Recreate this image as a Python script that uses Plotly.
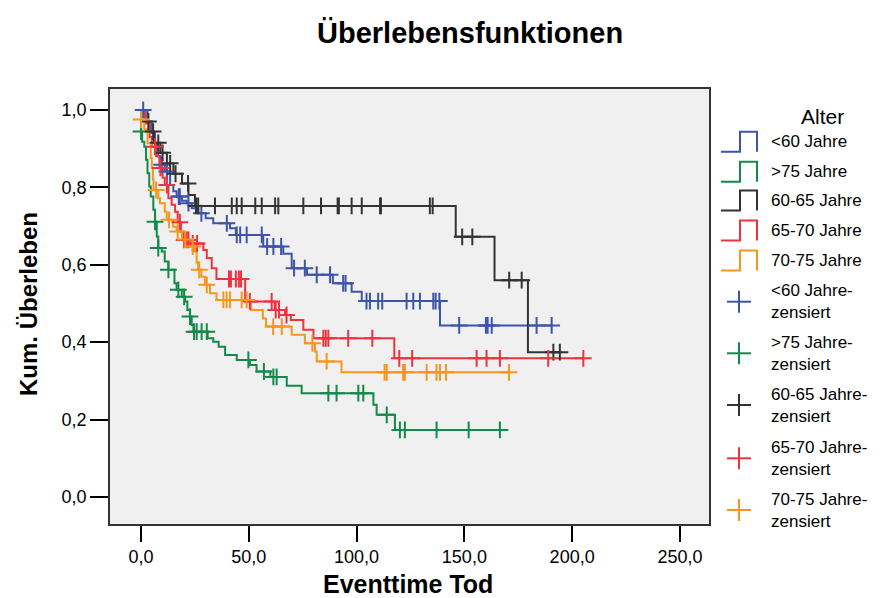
import numpy as np
import plotly.graph_objects as go

# ---------------- data ----------------
x_ticks = [0, 50, 100, 150, 200, 250]
x_tick_labels = ["0,0", "50,0", "100,0", "150,0", "200,0", "250,0"]
y_ticks = [0.0, 0.2, 0.4, 0.6, 0.8, 1.0]
y_tick_labels = ["0,0", "0,2", "0,4", "0,6", "0,8", "1,0"]

groups = ["<60 Jahre", ">75 Jahre", "60-65 Jahre", "65-70 Jahre", "70-75 Jahre"]

blue_t = [3, 5, 6.5, 8, 9, 11, 13.5, 15, 16.5, 19, 21.2, 23.5, 26.6, 30, 33.5, 41.3, 44,
          56.7, 66, 69.9, 77, 89, 97.7, 102.4, 138.7]
blue_s = [0.97, 0.94, 0.91, 0.88, 0.858, 0.841, 0.806, 0.79, 0.776, 0.765, 0.759, 0.746,
          0.733, 0.72, 0.707, 0.694, 0.677, 0.647, 0.628, 0.591, 0.574, 0.552, 0.53, 0.506, 0.443]
blue_c = [1, 9.6, 12, 17.5, 18, 22, 28, 39.8, 44.4, 46, 49, 56, 58.5, 61.4, 65, 71, 76, 81.5,
          87.7, 93.8, 94.9, 104.6, 106.2, 110, 111.9, 123.2, 126.3, 129.4, 135.6, 136.7, 138.4,
          147.6, 160, 160.8, 162.7, 183.5, 190.5]

green_t = [0, 0.5, 1.5, 2.3, 3, 3.8, 4.5, 5.7, 6.5, 7.3, 8, 9.6, 11, 12.7, 15.5, 16.5, 18.9,
           20.5, 21.5, 22.7, 23.5, 24.3, 30.9, 33.5, 36, 39, 44.4, 50.5, 53.6, 60, 67.6, 74.5,
           107.8, 109.3, 117.8]
green_s = [0.944, 0.918, 0.905, 0.871, 0.836, 0.802, 0.776, 0.742, 0.711, 0.673, 0.643, 0.634,
           0.608, 0.587, 0.552, 0.535, 0.517, 0.505, 0.483, 0.466, 0.444, 0.427, 0.41, 0.401,
           0.388, 0.367, 0.354, 0.341, 0.324, 0.31, 0.287, 0.268, 0.238, 0.212, 0.173]
green_c = [0, 6.5, 8, 12.7, 17.3, 20, 22.7, 24.6, 25.8, 28.1, 30.5, 49.8, 57, 61.4, 62.9, 86.9,
           90.7, 100.8, 103.1, 114, 120.1, 122.4, 137.1, 152, 166.5]

black_t = [2, 4, 6, 9, 12, 15, 19, 22, 25, 146, 164, 179.5]
black_s = [0.97, 0.944, 0.915, 0.889, 0.862, 0.835, 0.81, 0.78, 0.752, 0.672, 0.56, 0.374]
black_c = [3.4, 5.6, 8, 10, 13.5, 16, 21.8, 25.5, 26.5, 34.3, 42.1, 44.4, 46.7, 53, 56, 62.2,
           63.7, 75.3, 83.5, 91.2, 91.8, 97.7, 102.4, 110.9, 111.3, 134, 135.3, 149, 153.7,
           170.8, 176.6, 191.3, 194.3]

red_t = [2, 4, 5, 7, 8.5, 10, 11, 12.7, 14.2, 15.8, 17, 18.5, 19.6, 23, 28.9, 30.5, 32.8, 35,
         48.3, 62, 66.8, 69.5, 75.3, 80, 117.5]
red_s = [0.965, 0.93, 0.905, 0.88, 0.85, 0.825, 0.806, 0.772, 0.755, 0.737, 0.71, 0.685, 0.664,
         0.655, 0.638, 0.617, 0.591, 0.563, 0.505, 0.483, 0.47, 0.457, 0.432, 0.41, 0.358]
red_c = [6.5, 9, 12, 18, 20, 21.2, 22, 24, 26, 40.8, 41.7, 44, 45.4, 46.4, 50.5, 60.6, 62.5,
         64, 67.5, 84.6, 85.7, 86.9, 96.1, 107.3, 119.8, 125.8, 155.7, 160.3, 166.5, 188.9, 205.2]

orange_t = [0, 1.5, 3, 4.5, 5, 5.5, 5.8, 8, 8.8, 11, 11.9, 14.9, 16.5, 19, 22.7, 25, 25.8,
            26.5, 28, 29.7, 32, 35, 51, 56.5, 58, 69.9, 76, 80.7, 81.5, 93]
orange_s = [0.975, 0.95, 0.914, 0.875, 0.85, 0.82, 0.793, 0.772, 0.759, 0.737, 0.716, 0.698,
            0.686, 0.665, 0.647, 0.634, 0.605, 0.587, 0.569, 0.548, 0.526, 0.509, 0.483, 0.461,
            0.44, 0.419, 0.397, 0.376, 0.35, 0.322]
orange_c = [0, 7, 13, 17, 20.5, 24, 27, 30.5, 38.2, 39.7, 41.3, 46.7, 49, 61.3, 65.3, 79.5,
            86.1, 113, 114, 121.6, 122.4, 132.5, 137.1, 138.7, 141.5, 170.7]

colors = ["#3d55a8", "#13894a", "#333333", "#ee3340", "#f7961e"]

series = [
    (blue_t, blue_s, blue_c),
    (green_t, green_s, green_c),
    (black_t, black_s, black_c),
    (red_t, red_s, red_c),
    (orange_t, orange_s, orange_c),
]

FONT = "Liberation Sans, Arial, sans-serif"

# ---------------- figure ----------------
W, H = 890, 598
ML, MR, MT, MB = 110, 181, 89, 74
PW, PH = W - ML - MR, H - MT - MB


def px_x(px):
    return (px - ML) / PW


def px_y(py):
    return (H - MB - py) / PH


def surv_at(tc, t_ev, s_ev, start=1.0):
    idx = np.searchsorted(np.array(t_ev), tc, side="right") - 1
    return s_ev[idx] if idx >= 0 else start


fig = go.Figure()

for (t_ev, s_ev, t_c), name, col in zip(series, groups, colors):
    end = max(t_ev[-1], t_c[-1])
    xs = [0] + list(t_ev) + [end]
    ys = [1.0] + list(s_ev) + [s_ev[-1]]
    fig.add_trace(go.Scatter(x=xs, y=ys, mode="lines", line=dict(color=col, width=2, shape="hv"),
                             name=name, showlegend=False, hoverinfo="skip"))

for (t_ev, s_ev, t_c), name, col in zip(series, groups, colors):
    cy = [surv_at(c, t_ev, s_ev) for c in t_c]
    fig.add_trace(go.Scatter(x=t_c, y=cy, mode="markers",
                             marker=dict(symbol="cross-thin", size=12, line=dict(color=col, width=2)),
                             name=name + "-zensiert", showlegend=False))

fig.update_layout(
    width=W, height=H,
    margin=dict(l=ML, r=MR, t=MT, b=MB),
    paper_bgcolor="white",
    plot_bgcolor="#f0f0f0",
    font=dict(family=FONT, color="black", size=18),
    xaxis=dict(range=[-14.4, 263.5], tickvals=x_ticks, ticktext=x_tick_labels,
               ticks="outside", ticklen=16, tickwidth=2, tickcolor="black",
               showgrid=False, zeroline=False, showline=True, linecolor="#333333",
               linewidth=1.5, mirror=True, tickfont=dict(size=18)),
    yaxis=dict(range=[-0.07, 1.054], tickvals=y_ticks, ticktext=y_tick_labels,
               ticks="outside", ticklen=18, tickwidth=2, tickcolor="black",
               showgrid=False, zeroline=False, showline=True, linecolor="#333333",
               linewidth=1.5, mirror=True, tickfont=dict(size=18)),
)

ann = []
ann.append(dict(text="<b>Überlebensfunktionen</b>", x=px_x(470), y=px_y(33), xref="paper",
                yref="paper", showarrow=False, font=dict(size=29), xanchor="center",
                yanchor="middle"))
ann.append(dict(text="<b>Eventtime Tod</b>", x=px_x(408), y=px_y(584), xref="paper",
                yref="paper", showarrow=False, font=dict(size=25), xanchor="center",
                yanchor="middle"))
ann.append(dict(text="<b>Kum. Überleben</b>", x=px_x(28), y=px_y(304), xref="paper",
                yref="paper", showarrow=False, font=dict(size=24), textangle=-90,
                xanchor="center", yanchor="middle"))
ann.append(dict(text="Alter", x=px_x(822), y=px_y(116), xref="paper", yref="paper",
                showarrow=False, font=dict(size=21), xanchor="center", yanchor="middle"))

shapes = []
row_y = [141.7, 171.7, 200.5, 230.5, 260.5]
for yc, name, col in zip(row_y, groups, colors):
    pts = [(721, yc + 10), (740, yc + 10), (740, yc - 10), (757, yc - 10), (757, yc + 10)]
    path = "M " + " L ".join(f"{px_x(a):.5f},{px_y(b):.5f}" for a, b in pts)
    shapes.append(dict(type="path", path=path, xref="paper", yref="paper",
                       line=dict(color=col, width=2)))
    ann.append(dict(text=name, x=px_x(769), y=px_y(yc), xref="paper", yref="paper",
                    showarrow=False, font=dict(size=17), xanchor="left", yanchor="middle"))

cens_y = [301.7, 353.3, 405, 458.3, 510]
for yc, name, col in zip(cens_y, groups, colors):
    shapes.append(dict(type="line", x0=px_x(727), x1=px_x(751), y0=px_y(yc), y1=px_y(yc),
                       xref="paper", yref="paper", line=dict(color=col, width=2)))
    shapes.append(dict(type="line", x0=px_x(739), x1=px_x(739), y0=px_y(yc - 11),
                       y1=px_y(yc + 11), xref="paper", yref="paper",
                       line=dict(color=col, width=2)))
    ann.append(dict(text=name + "-<br>zensiert", x=px_x(769), y=px_y(yc), xref="paper",
                    yref="paper", showarrow=False, font=dict(size=17), xanchor="left",
                    yanchor="middle", align="left"))

fig.update_layout(annotations=ann, shapes=shapes)

fig.write_html("out.html")
